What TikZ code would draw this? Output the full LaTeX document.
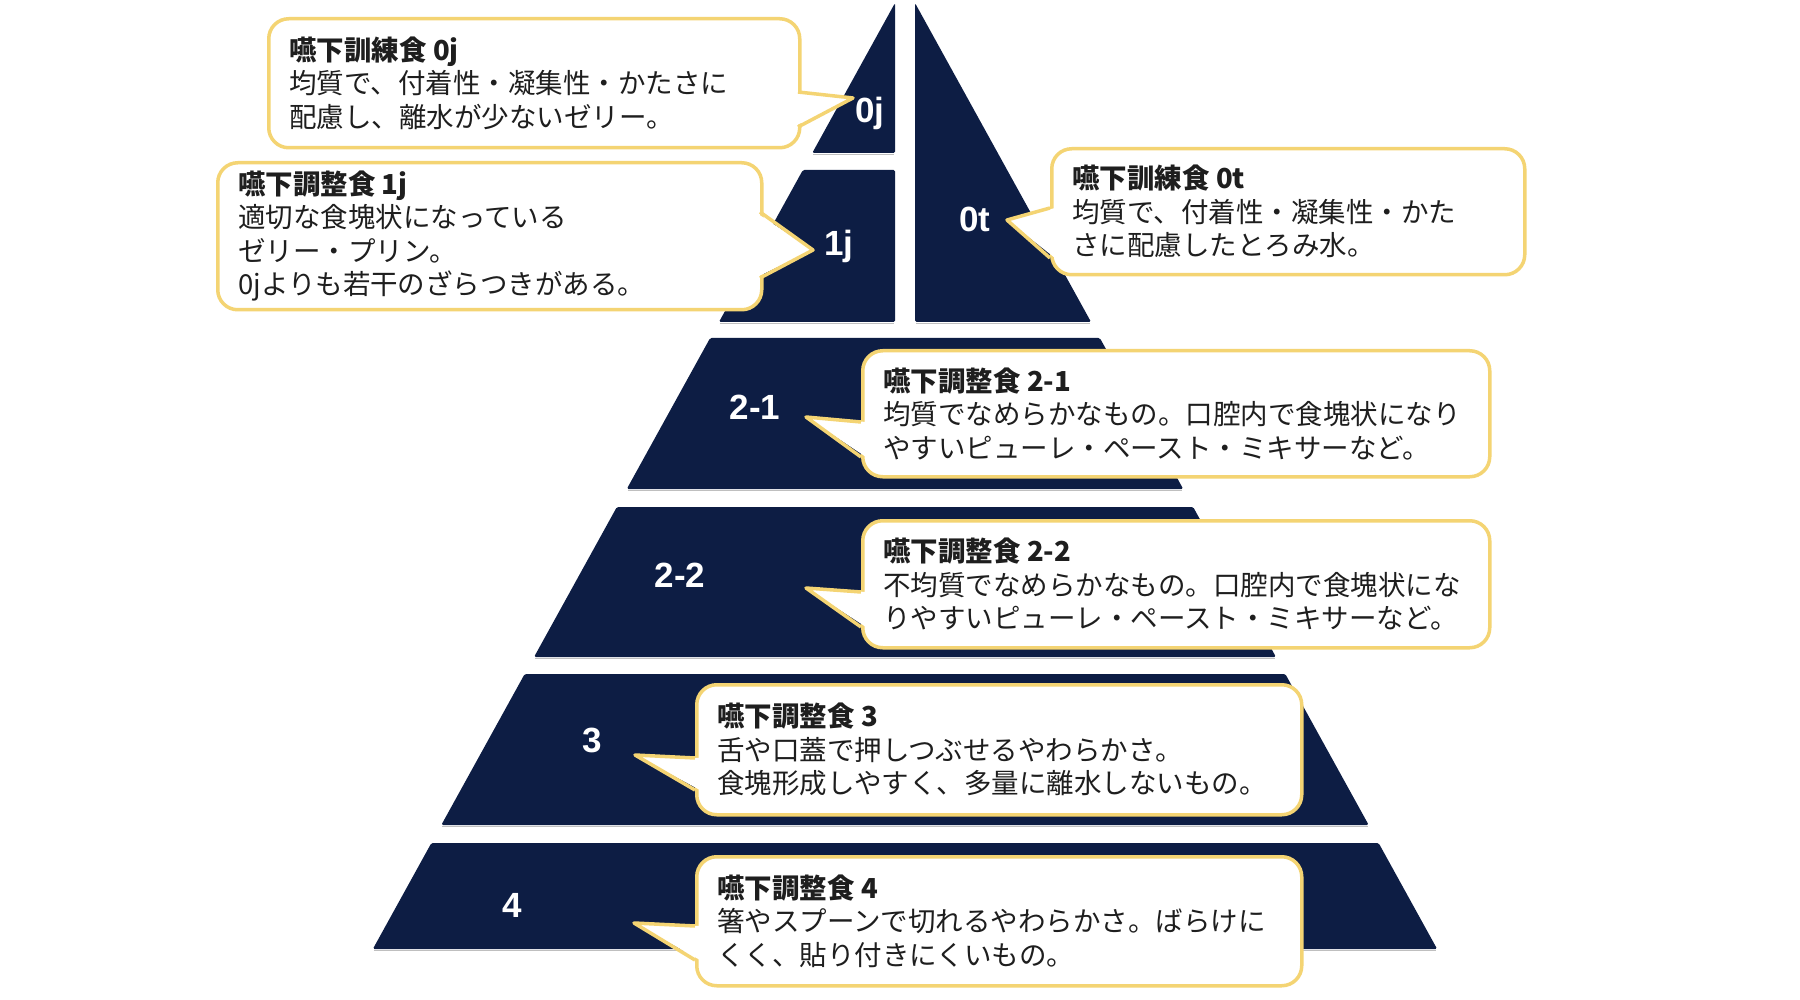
\documentclass[tikz,border=0pt]{standalone}
\usepackage{fontspec}
\newfontfamily\jp{Noto Sans CJK JP}
\newfontfamily\lab{Liberation Sans}
\definecolor{navy}{RGB}{13,29,68}
\definecolor{gold}{RGB}{244,212,115}
\definecolor{ink}{RGB}{30,30,30}
\newcommand\bubbleptr[5]{%
  \fill[white] (#1+#5,#2) -- (#4) -- (#1+#5,#3) -- cycle;
  \draw[ptr] (#1,#2) -- (#4) -- (#1,#3);
}
\begin{document}
\begin{tikzpicture}[x=1pt,y=-1pt,
  declare function={pl(\q)=905-0.552*(\q+15); pr(\q)=905+0.552*(\q+15);},
  tier/.style={fill=navy, rounded corners=1.5pt},
  lbl/.style={text=white, font=\lab\bfseries\fontsize{35}{35}\selectfont, anchor=base, inner sep=0},
  box/.style={draw=gold, line width=3.5pt, fill=white, rounded corners=20pt, anchor=north west, inner sep=0},
  txt/.style={text=ink, font=\jp\fontsize{27.5}{33.5}\selectfont, align=left, anchor=west, inner sep=0},
  ptr/.style={draw=gold, line width=3.5pt, line join=round},
]
\useasboundingbox[fill=white] (0,0) rectangle (1800,1000);

% pyramid: top split pieces
\fill[tier] (895,3) -- (895,153) -- ({pl(153)},153) -- cycle;
\fill[tier] ({pl(170)},170) -- (895,170) -- (895,322) -- ({pl(322)},322) -- cycle;
\fill[tier] (915,3) -- ({pr(322)},322) -- (915,322) -- cycle;
\draw[black!25, line width=1.2pt] ({pl(153)+1},154.5) -- (894,154.5);
\draw[black!25, line width=1.2pt] ({pl(322)+1},323.5) -- (894,323.5);
\draw[black!25, line width=1.2pt] (916,323.5) -- ({pr(322)-1},323.5);
% trapezoid tiers
\foreach \a/\b in {338/489, 507/657, 674/825, 843/949} {
  \draw[black!25, line width=1.2pt] ({pl(\b)+1},\b+1.5) -- ({pr(\b)-1},\b+1.5);
  \fill[tier] ({pl(\a)},\a) -- ({pr(\a)},\a) -- ({pr(\b)},\b) -- ({pl(\b)},\b) -- cycle;
}

% tier labels
\node[lbl] (l0j) at (870,122.5) {0j};
\node[lbl] (l1j) at (839,255.5) {1j};
\node[lbl] (l0t) at (975,231.5) {0t};
\node[lbl] (l21) at (755,419.5) {2-1};
\node[lbl] (l22) at (680,587.5) {2-2};
\node[lbl] (l3) at (592,752.5) {3};
\node[lbl] (l4) at (512,917.5) {4};

% pointer tips
\coordinate (p0j) at (853,98);
\coordinate (p1j) at (813,250);
\coordinate (p0t) at (1007,220);
\coordinate (p21) at (806,417);
\coordinate (p22) at (806,588);
\coordinate (p3) at (635,755);
\coordinate (p4) at (634,923);

% callout 0j
\node[box, minimum width=531pt, minimum height=129pt] (c0j) at (267,17) {};
\bubbleptr{798}{92}{127}{p0j}{-5}
\node[txt] (t0j) at ([xshift=22pt]c0j.west) {\textbf{嚥下訓練食 0j}\\均質で、付着性・凝集性・かたさに\\配慮し、離水が少ないゼリー。};

% callout 1j
\node[box, minimum width=544pt, minimum height=147pt] (c1j) at (216,161) {};
\bubbleptr{760}{212}{278}{p1j}{-5}
\node[txt] (t1j) at ([xshift=22pt]c1j.west) {\textbf{嚥下調整食 1j}\\適切な食塊状になっている\\ゼリー・プリン。\\0jよりも若干のざらつきがある。};

% callout 0t
\node[box, minimum width=473pt, minimum height=126pt] (c0t) at (1050,147) {};
\bubbleptr{1050}{208}{258}{p0t}{5}
\node[txt] (t0t) at ([xshift=22pt]c0t.west) {\textbf{嚥下訓練食 0t}\\均質で、付着性・凝集性・かた\\さに配慮したとろみ水。};

% callout 2-1
\node[box, minimum width=627pt, minimum height=126pt] (c21) at (861,349) {};
\bubbleptr{861}{422}{457}{p21}{5}
\node[txt] (t21) at ([xshift=22pt]c21.west) {\textbf{嚥下調整食 2-1}\\均質でなめらかなもの。口腔内で食塊状になり\\やすいピューレ・ペースト・ミキサーなど。};

% callout 2-2
\node[box, minimum width=627pt, minimum height=127pt] (c22) at (861,519) {};
\bubbleptr{861}{592}{627}{p22}{5}
\node[txt] (t22) at ([xshift=22pt]c22.west) {\textbf{嚥下調整食 2-2}\\不均質でなめらかなもの。口腔内で食塊状にな\\りやすいピューレ・ペースト・ミキサーなど。};

% callout 3
\node[box, minimum width=605pt, minimum height=130pt] (c3) at (695,683) {};
\bubbleptr{695}{758}{790}{p3}{5}
\node[txt] (t3) at ([xshift=22pt]c3.west) {\textbf{嚥下調整食 3}\\舌や口蓋で押しつぶせるやわらかさ。\\食塊形成しやすく、多量に離水しないもの。};

% callout 4
\node[box, minimum width=605pt, minimum height=129pt] (c4) at (695,855) {};
\bubbleptr{695}{926}{960}{p4}{5}
\node[txt] (t4) at ([xshift=22pt]c4.west) {\textbf{嚥下調整食 4}\\箸やスプーンで切れるやわらかさ。ばらけに\\くく、貼り付きにくいもの。};
\end{tikzpicture}
\end{document}
